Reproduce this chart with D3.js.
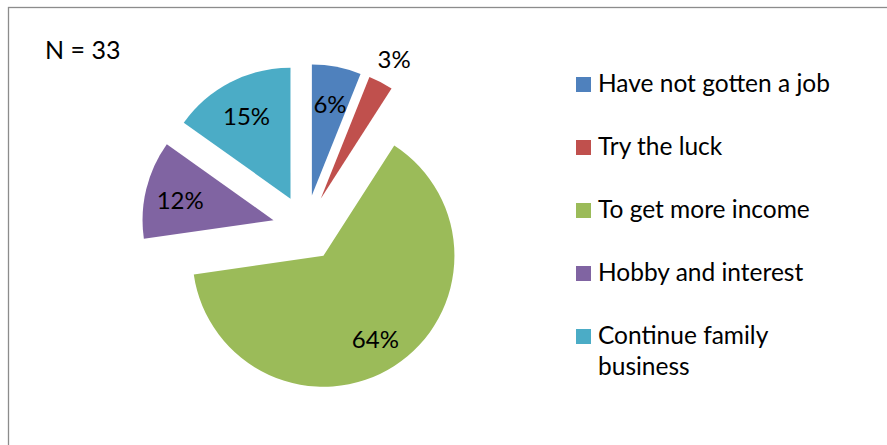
<!DOCTYPE html>
<html>
<head>
<meta charset="utf-8">
<script src="https://cdn.jsdelivr.net/npm/d3@7"></script>
<style>
  html, body { margin: 0; padding: 0; background: #fff; }
  svg { display: block; }
  text { font-family: Lato, "Open Sans", sans-serif; fill: #000; }
</style>
</head>
<body>
<svg id="chart" width="887" height="445"></svg>
<script>
// Reasons for choosing the job (respondent counts, N = 33)
const categories = ["Have not gotten a job", "Try the luck", "To get more income", "Hobby and interest", "Continue family business"];
const counts = [2, 1, 21, 4, 5];
const colors = ["#4F81BD", "#C0504D", "#9BBB59", "#8064A2", "#4BACC6"];
const sampleLabel = "N = 33";

const svg = d3.select("#chart");
const W = 887, H = 445;

// chart frame (open at right and bottom edges of the window)
svg.append("rect")
  .attr("x", 8.5).attr("y", 7.5)
  .attr("width", W + 20).attr("height", H + 20)
  .attr("fill", "none").attr("stroke", "#8c8c8c").attr("stroke-width", 1.3);

svg.append("text")
  .attr("x", 45).attr("y", 59)
  .style("font-size", "25px")
  .text(sampleLabel);

const total = d3.sum(counts);
const cx = 305.6, cy = 228, r = 131, explode = 33;

const pie = d3.pie().sort(null).value(d => d)(counts);
const arc = d3.arc().innerRadius(0).outerRadius(r);

const g = svg.append("g").attr("transform", `translate(${cx},${cy})`);

const mid = d => (d.startAngle + d.endAngle) / 2;

const slices = g.selectAll("g.slice").data(pie).join("g")
  .attr("class", "slice")
  .attr("transform", d => {
    const a = mid(d);
    return `translate(${explode * Math.sin(a)},${-explode * Math.cos(a)})`;
  });

slices.append("path")
  .attr("d", arc)
  .attr("fill", (d, i) => colors[i]);

// percentage labels: inside the slice, or outside for very thin slices
const labelR = d => (d.value / total < 0.05 ? 160 : 96);
slices.append("text")
  .attr("text-anchor", "middle")
  .attr("dominant-baseline", "central")
  .style("font-size", "24px")
  .attr("x", d => labelR(d) * Math.sin(mid(d)))
  .attr("y", d => -labelR(d) * Math.cos(mid(d)) + 2)
  .text(d => Math.round(d.value / total * 100) + "%");

// legend
const legend = svg.append("g").attr("transform", "translate(576,77)");
const rowGap = 63;
const item = legend.selectAll("g").data(categories).join("g")
  .attr("transform", (d, i) => `translate(0,${i * rowGap})`);
item.append("rect")
  .attr("width", 15).attr("height", 15)
  .attr("fill", (d, i) => colors[i]);
item.append("text")
  .attr("x", 22).attr("y", 15)
  .style("font-size", "24.5px")
  .each(function (d) {
    const t = d3.select(this);
    const lines = d === "Continue family business" ? ["Continue family", "business"] : [d];
    lines.forEach((ln, k) => {
      t.append("tspan").attr("x", 22).attr("dy", k === 0 ? 0 : 31).text(ln);
    });
  });
</script>
</body>
</html>
